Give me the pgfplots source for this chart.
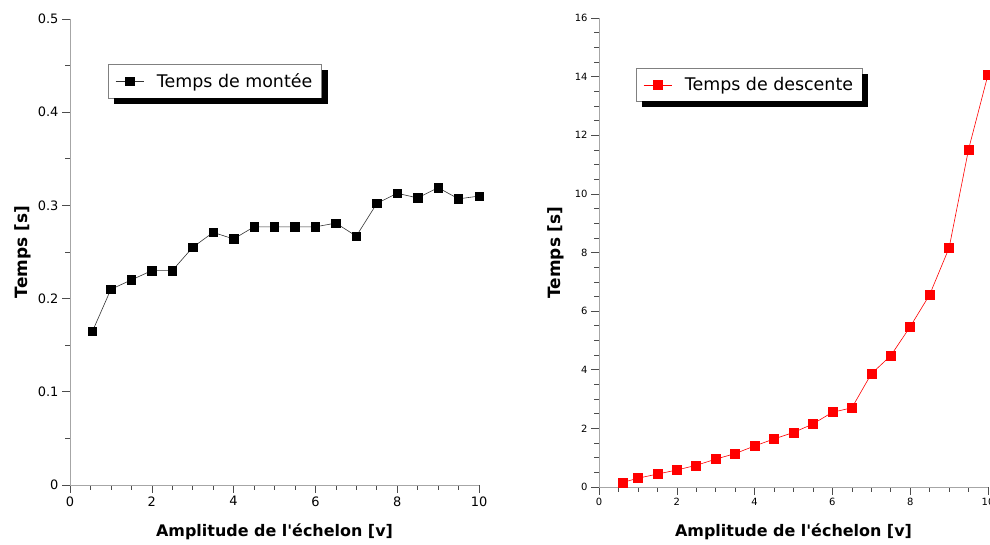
\documentclass[border=0pt]{standalone}
\usepackage{fontspec}
\setmainfont{DejaVu Sans}
\usepackage{pgfplots}
\pgfplotsset{compat=1.18}
\pgfplotsset{
  mystyle/.style={
    scale only axis,
    axis lines=left,
    axis line style={gray!70,-},
    tick align=outside,
    tick style={black!70,line width=0.6bp},
    major tick length=8bp,
    minor tick length=5bp,
    xmin=0,xmax=10,
    xtick={0,2,...,10},
    minor x tick num=3,
    /pgf/number format/assume math mode=true,
    xlabel={\bfseries Amplitude de l\textquotesingle échelon [v]},
    ylabel={\bfseries Temps [s]},
    xlabel style={font=\fontsize{16}{16}\selectfont,yshift=-11bp},
    ylabel style={font=\fontsize{17}{17}\selectfont},
    legend cell align=left,
    legend image code/.code={
      \draw[mark repeat=2,mark phase=2,##1] plot coordinates {(0bp,0bp) (14bp,0bp) (28bp,0bp)};
    },
    legend style={draw=gray,fill=white,line width=0.6bp,
      font=\fontsize{17.5}{17.5}\selectfont,
      inner xsep=7bp,inner ysep=7bp,column sep=11bp,
      anchor=north west},
  }
}
\begin{document}
\begin{tikzpicture}[x=1bp,y=1bp]
\useasboundingbox (0,0) rectangle (990,545);
\begin{axis}[mystyle,
  at={(70bp,60bp)},anchor=south west,
  width=409bp,height=466bp,
  ymin=0,ymax=0.5,
  ytick={0,0.1,...,0.5},
  minor y tick num=1,
  tick label style={font=\fontsize{13}{13}\selectfont},
  /pgf/number format/fixed,
  legend style={at={(rel axis cs:0.093,0.903)},name=legA},
]
\addplot[black!80,line width=0.6bp,mark=square*,mark size=4.2bp,mark options={black,solid}] coordinates {
(0.55,0.165) (1,0.210) (1.5,0.220) (2,0.230) (2.5,0.230) (3,0.255) (3.5,0.271)
(4,0.264) (4.5,0.277) (5,0.277) (5.5,0.277) (6,0.277) (6.5,0.281) (7,0.267)
(7.5,0.302) (8,0.313) (8.5,0.308) (9,0.319) (9.5,0.307) (10,0.310)};
\addlegendentry{Temps de montée}
\end{axis}
\fill[black] ([shift={(6bp,-6bp)}]legA.south west) rectangle ([shift={(6bp,0bp)}]legA.south east);
\fill[black] ([shift={(0bp,-6bp)}]legA.north east) rectangle ([shift={(6bp,0bp)}]legA.south east);
\begin{axis}[mystyle,
  at={(599bp,58bp)},anchor=south west,
  width=389bp,height=469bp,
  ymin=0,ymax=16,
  ytick={0,2,...,16},
  minor y tick num=3,
  tick label style={font=\fontsize{10}{10}\selectfont},
  ylabel style={yshift=4bp},
  clip=false,
  legend style={at={(rel axis cs:0.095,0.893)},name=legB},
]
\addplot[red,line width=0.6bp,mark=square*,mark size=4.5bp,mark options={red,solid}] coordinates {
(0.6,0.15) (1,0.30) (1.5,0.44) (2,0.58) (2.5,0.74) (3,0.95) (3.5,1.14)
(4,1.40) (4.5,1.64) (5,1.86) (5.5,2.15) (6,2.55) (6.5,2.70) (7,3.86)
(7.5,4.48) (8,5.47) (8.5,6.56) (9,8.16) (9.5,11.52) (10,14.07)};
\addlegendentry{Temps de descente}
\end{axis}
\fill[black] ([shift={(6bp,-6bp)}]legB.south west) rectangle ([shift={(6bp,0bp)}]legB.south east);
\fill[black] ([shift={(0bp,-6bp)}]legB.north east) rectangle ([shift={(6bp,0bp)}]legB.south east);
\end{tikzpicture}
\end{document}
